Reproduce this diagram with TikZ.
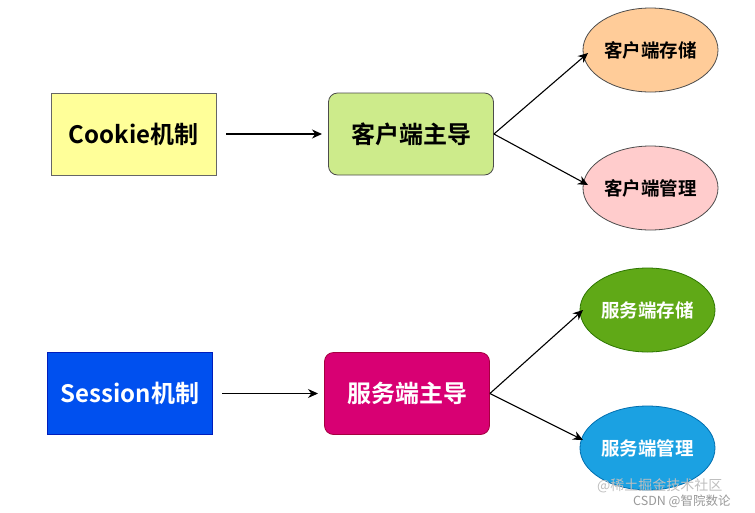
\documentclass[tikz,border=0pt]{standalone}
\usepackage{fontspec}
\setmainfont{Noto Sans CJK SC}[BoldFont={Noto Sans CJK SC Bold}]
\newfontfamily\cjkb{Noto Sans CJK SC Bold}
\usetikzlibrary{arrows.meta,shapes.geometric}
\definecolor{cyel}{HTML}{FFFF99}
\definecolor{cgrn}{HTML}{CDEB8B}
\definecolor{corg}{HTML}{FFCC99}
\definecolor{cpnk}{HTML}{FFCCCC}
\definecolor{cblu}{HTML}{0050EF}
\definecolor{cblub}{HTML}{001DBC}
\definecolor{cmag}{HTML}{D80073}
\definecolor{cmagb}{HTML}{A50040}
\definecolor{cgr2}{HTML}{60A917}
\definecolor{cgr2b}{HTML}{2D7600}
\definecolor{ccy}{HTML}{1BA1E2}
\definecolor{ccyb}{HTML}{006EAF}
\tikzset{
  sq/.style={draw, line width=0.8pt, minimum width=165pt, minimum height=82pt, inner sep=0pt, font=\cjkb\fontsize{24}{26}\selectfont},
  rr/.style={sq, rounded corners=9pt},
  el/.style={ellipse, draw, line width=0.8pt, minimum width=135pt, minimum height=84pt, inner sep=0pt, font=\cjkb\fontsize{18.5}{20}\selectfont},
  arr/.style={-{Stealth[length=10pt,width=9pt]}, line width=1.1pt, black},
  wm/.style={inner sep=0pt, anchor=west}
}
\begin{document}
\begin{tikzpicture}[x=1pt,y=-1pt]
\useasboundingbox[fill=white] (0,0) rectangle (755,512);
\node[sq, fill=cyel, draw=black!60] (cookie) at (133.5,134) {Cookie机制};
\node[rr, fill=cgrn, draw=black!70] (cmain) at (411,134) {客户端主导};
\node[el, fill=corg, draw=black!70] (cstore) at (650.5,50) {客户端存储};
\node[el, fill=cpnk, draw=black!70] (cmanage) at (650.5,188) {客户端管理};
\coordinate (c1) at (226,134);
\coordinate (c2) at (322,134);
\draw[arr] (c1) -- (c2);
\draw[arr] (cmain.east) -- (588,53);
\draw[arr] (cmain.east) -- (588,185);

\node[sq, fill=cblu, draw=cblub, text=white] (session) at (130,393.5) {Session机制};
\node[rr, fill=cmag, draw=cmagb, text=white] (smain) at (407,393.5) {服务端主导};
\node[el, fill=cgr2, draw=cgr2b, text=white] (sstore) at (647.5,310) {服务端存储};
\node[el, fill=ccy, draw=ccyb, text=white] (smanage) at (647.5,448) {服务端管理};
\coordinate (s1) at (222,393.5);
\coordinate (s2) at (318,393.5);
\draw[arr] (s1) -- (s2);
\draw[arr] (smain.east) -- (583,310);
\draw[arr] (smain.east) -- (583,440);

\node[wm, text=black!25, font=\fontsize{14}{15}\selectfont] (wm1) at (597,486) {@稀土掘金技术社区};
\node[wm, text=black!40, font=\fontsize{12.5}{13}\selectfont] (wm2) at (633,501) {CSDN @智院数论};
\end{tikzpicture}
\end{document}
